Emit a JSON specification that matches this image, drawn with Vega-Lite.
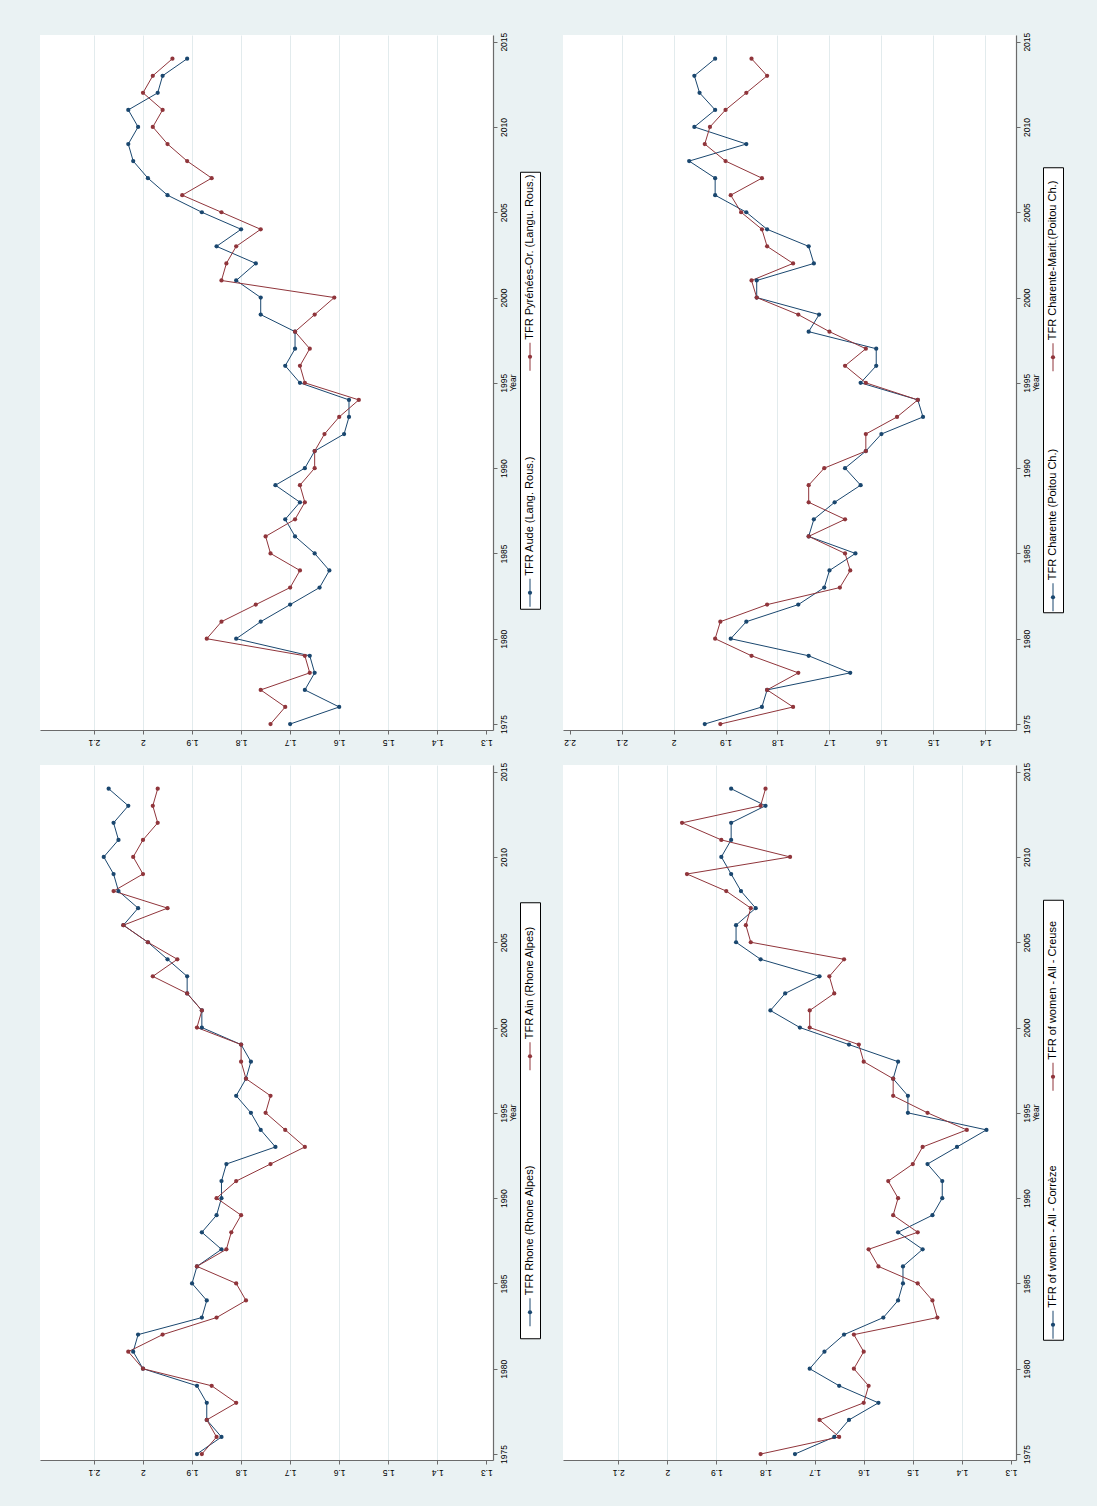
{
  "$schema": "https://vega.github.io/schema/vega-lite/v6.json",
  "background": "#eaf2f3",
  "padding": {"left": 40, "top": 32, "right": 33, "bottom": 30},
  "config": {
    "font": "Liberation Sans",
    "view": {"stroke": null, "fill": "white"},
    "axis": {"labelFont": "Liberation Sans", "labelFontSize": 8.5, "labelColor": "#000", "domainColor": "#6b6b6b", "domainWidth": 1.2, "tickColor": "#6b6b6b", "tickWidth": 1, "titleFont": "Liberation Sans", "titleFontWeight": "normal", "titleFontSize": 8.5, "titleColor": "#000"}
  },
  "datasets": {
    "A": [
      {"s":"a","y":1975,"v":1.70},{"s":"a","y":1976,"v":1.60},{"s":"a","y":1977,"v":1.67},{"s":"a","y":1978,"v":1.65},{"s":"a","y":1979,"v":1.66},{"s":"a","y":1980,"v":1.81},{"s":"a","y":1981,"v":1.76},{"s":"a","y":1982,"v":1.70},{"s":"a","y":1983,"v":1.64},{"s":"a","y":1984,"v":1.62},{"s":"a","y":1985,"v":1.65},{"s":"a","y":1986,"v":1.69},{"s":"a","y":1987,"v":1.71},{"s":"a","y":1988,"v":1.68},{"s":"a","y":1989,"v":1.73},{"s":"a","y":1990,"v":1.67},{"s":"a","y":1991,"v":1.65},{"s":"a","y":1992,"v":1.59},{"s":"a","y":1993,"v":1.58},{"s":"a","y":1994,"v":1.58},{"s":"a","y":1995,"v":1.68},{"s":"a","y":1996,"v":1.71},{"s":"a","y":1997,"v":1.69},{"s":"a","y":1998,"v":1.69},{"s":"a","y":1999,"v":1.76},{"s":"a","y":2000,"v":1.76},{"s":"a","y":2001,"v":1.81},{"s":"a","y":2002,"v":1.77},{"s":"a","y":2003,"v":1.85},{"s":"a","y":2004,"v":1.80},{"s":"a","y":2005,"v":1.88},{"s":"a","y":2006,"v":1.95},{"s":"a","y":2007,"v":1.99},{"s":"a","y":2008,"v":2.02},{"s":"a","y":2009,"v":2.03},{"s":"a","y":2010,"v":2.01},{"s":"a","y":2011,"v":2.03},{"s":"a","y":2012,"v":1.97},{"s":"a","y":2013,"v":1.96},{"s":"a","y":2014,"v":1.91},
      {"s":"b","y":1975,"v":1.74},{"s":"b","y":1976,"v":1.71},{"s":"b","y":1977,"v":1.76},{"s":"b","y":1978,"v":1.66},{"s":"b","y":1979,"v":1.67},{"s":"b","y":1980,"v":1.87},{"s":"b","y":1981,"v":1.84},{"s":"b","y":1982,"v":1.77},{"s":"b","y":1983,"v":1.70},{"s":"b","y":1984,"v":1.68},{"s":"b","y":1985,"v":1.74},{"s":"b","y":1986,"v":1.75},{"s":"b","y":1987,"v":1.69},{"s":"b","y":1988,"v":1.67},{"s":"b","y":1989,"v":1.68},{"s":"b","y":1990,"v":1.65},{"s":"b","y":1991,"v":1.65},{"s":"b","y":1992,"v":1.63},{"s":"b","y":1993,"v":1.60},{"s":"b","y":1994,"v":1.56},{"s":"b","y":1995,"v":1.67},{"s":"b","y":1996,"v":1.68},{"s":"b","y":1997,"v":1.66},{"s":"b","y":1998,"v":1.69},{"s":"b","y":1999,"v":1.65},{"s":"b","y":2000,"v":1.61},{"s":"b","y":2001,"v":1.84},{"s":"b","y":2002,"v":1.83},{"s":"b","y":2003,"v":1.81},{"s":"b","y":2004,"v":1.76},{"s":"b","y":2005,"v":1.84},{"s":"b","y":2006,"v":1.92},{"s":"b","y":2007,"v":1.86},{"s":"b","y":2008,"v":1.91},{"s":"b","y":2009,"v":1.95},{"s":"b","y":2010,"v":1.98},{"s":"b","y":2011,"v":1.96},{"s":"b","y":2012,"v":2.00},{"s":"b","y":2013,"v":1.98},{"s":"b","y":2014,"v":1.94}
    ],
    "B": [
      {"s":"a","y":1975,"v":1.94},{"s":"a","y":1976,"v":1.83},{"s":"a","y":1977,"v":1.82},{"s":"a","y":1978,"v":1.66},{"s":"a","y":1979,"v":1.74},{"s":"a","y":1980,"v":1.89},{"s":"a","y":1981,"v":1.86},{"s":"a","y":1982,"v":1.76},{"s":"a","y":1983,"v":1.71},{"s":"a","y":1984,"v":1.70},{"s":"a","y":1985,"v":1.65},{"s":"a","y":1986,"v":1.74},{"s":"a","y":1987,"v":1.73},{"s":"a","y":1988,"v":1.69},{"s":"a","y":1989,"v":1.64},{"s":"a","y":1990,"v":1.67},{"s":"a","y":1991,"v":1.63},{"s":"a","y":1992,"v":1.60},{"s":"a","y":1993,"v":1.52},{"s":"a","y":1994,"v":1.53},{"s":"a","y":1995,"v":1.64},{"s":"a","y":1996,"v":1.61},{"s":"a","y":1997,"v":1.61},{"s":"a","y":1998,"v":1.74},{"s":"a","y":1999,"v":1.72},{"s":"a","y":2000,"v":1.84},{"s":"a","y":2001,"v":1.84},{"s":"a","y":2002,"v":1.73},{"s":"a","y":2003,"v":1.74},{"s":"a","y":2004,"v":1.82},{"s":"a","y":2005,"v":1.86},{"s":"a","y":2006,"v":1.92},{"s":"a","y":2007,"v":1.92},{"s":"a","y":2008,"v":1.97},{"s":"a","y":2009,"v":1.86},{"s":"a","y":2010,"v":1.96},{"s":"a","y":2011,"v":1.92},{"s":"a","y":2012,"v":1.95},{"s":"a","y":2013,"v":1.96},{"s":"a","y":2014,"v":1.92},
      {"s":"b","y":1975,"v":1.91},{"s":"b","y":1976,"v":1.77},{"s":"b","y":1977,"v":1.82},{"s":"b","y":1978,"v":1.76},{"s":"b","y":1979,"v":1.85},{"s":"b","y":1980,"v":1.92},{"s":"b","y":1981,"v":1.91},{"s":"b","y":1982,"v":1.82},{"s":"b","y":1983,"v":1.68},{"s":"b","y":1984,"v":1.66},{"s":"b","y":1985,"v":1.67},{"s":"b","y":1986,"v":1.74},{"s":"b","y":1987,"v":1.67},{"s":"b","y":1988,"v":1.74},{"s":"b","y":1989,"v":1.74},{"s":"b","y":1990,"v":1.71},{"s":"b","y":1991,"v":1.63},{"s":"b","y":1992,"v":1.63},{"s":"b","y":1993,"v":1.57},{"s":"b","y":1994,"v":1.53},{"s":"b","y":1995,"v":1.63},{"s":"b","y":1996,"v":1.67},{"s":"b","y":1997,"v":1.63},{"s":"b","y":1998,"v":1.70},{"s":"b","y":1999,"v":1.76},{"s":"b","y":2000,"v":1.84},{"s":"b","y":2001,"v":1.85},{"s":"b","y":2002,"v":1.77},{"s":"b","y":2003,"v":1.82},{"s":"b","y":2004,"v":1.83},{"s":"b","y":2005,"v":1.87},{"s":"b","y":2006,"v":1.89},{"s":"b","y":2007,"v":1.83},{"s":"b","y":2008,"v":1.90},{"s":"b","y":2009,"v":1.94},{"s":"b","y":2010,"v":1.93},{"s":"b","y":2011,"v":1.90},{"s":"b","y":2012,"v":1.86},{"s":"b","y":2013,"v":1.82},{"s":"b","y":2014,"v":1.85}
    ],
    "C": [
      {"s":"a","y":1975,"v":1.89},{"s":"a","y":1976,"v":1.84},{"s":"a","y":1977,"v":1.87},{"s":"a","y":1978,"v":1.87},{"s":"a","y":1979,"v":1.89},{"s":"a","y":1980,"v":2.00},{"s":"a","y":1981,"v":2.02},{"s":"a","y":1982,"v":2.01},{"s":"a","y":1983,"v":1.88},{"s":"a","y":1984,"v":1.87},{"s":"a","y":1985,"v":1.90},{"s":"a","y":1986,"v":1.89},{"s":"a","y":1987,"v":1.84},{"s":"a","y":1988,"v":1.88},{"s":"a","y":1989,"v":1.85},{"s":"a","y":1990,"v":1.84},{"s":"a","y":1991,"v":1.84},{"s":"a","y":1992,"v":1.83},{"s":"a","y":1993,"v":1.73},{"s":"a","y":1994,"v":1.76},{"s":"a","y":1995,"v":1.78},{"s":"a","y":1996,"v":1.81},{"s":"a","y":1997,"v":1.79},{"s":"a","y":1998,"v":1.78},{"s":"a","y":1999,"v":1.80},{"s":"a","y":2000,"v":1.88},{"s":"a","y":2001,"v":1.88},{"s":"a","y":2002,"v":1.91},{"s":"a","y":2003,"v":1.91},{"s":"a","y":2004,"v":1.95},{"s":"a","y":2005,"v":1.99},{"s":"a","y":2006,"v":2.04},{"s":"a","y":2007,"v":2.01},{"s":"a","y":2008,"v":2.05},{"s":"a","y":2009,"v":2.06},{"s":"a","y":2010,"v":2.08},{"s":"a","y":2011,"v":2.05},{"s":"a","y":2012,"v":2.06},{"s":"a","y":2013,"v":2.03},{"s":"a","y":2014,"v":2.07},
      {"s":"b","y":1975,"v":1.88},{"s":"b","y":1976,"v":1.85},{"s":"b","y":1977,"v":1.87},{"s":"b","y":1978,"v":1.81},{"s":"b","y":1979,"v":1.86},{"s":"b","y":1980,"v":2.00},{"s":"b","y":1981,"v":2.03},{"s":"b","y":1982,"v":1.96},{"s":"b","y":1983,"v":1.85},{"s":"b","y":1984,"v":1.79},{"s":"b","y":1985,"v":1.81},{"s":"b","y":1986,"v":1.89},{"s":"b","y":1987,"v":1.83},{"s":"b","y":1988,"v":1.82},{"s":"b","y":1989,"v":1.80},{"s":"b","y":1990,"v":1.85},{"s":"b","y":1991,"v":1.81},{"s":"b","y":1992,"v":1.74},{"s":"b","y":1993,"v":1.67},{"s":"b","y":1994,"v":1.71},{"s":"b","y":1995,"v":1.75},{"s":"b","y":1996,"v":1.74},{"s":"b","y":1997,"v":1.79},{"s":"b","y":1998,"v":1.80},{"s":"b","y":1999,"v":1.80},{"s":"b","y":2000,"v":1.89},{"s":"b","y":2001,"v":1.88},{"s":"b","y":2002,"v":1.91},{"s":"b","y":2003,"v":1.98},{"s":"b","y":2004,"v":1.93},{"s":"b","y":2005,"v":1.99},{"s":"b","y":2006,"v":2.04},{"s":"b","y":2007,"v":1.95},{"s":"b","y":2008,"v":2.06},{"s":"b","y":2009,"v":2.00},{"s":"b","y":2010,"v":2.02},{"s":"b","y":2011,"v":2.00},{"s":"b","y":2012,"v":1.97},{"s":"b","y":2013,"v":1.98},{"s":"b","y":2014,"v":1.97}
    ],
    "D": [
      {"s":"a","y":1975,"v":1.74},{"s":"a","y":1976,"v":1.66},{"s":"a","y":1977,"v":1.63},{"s":"a","y":1978,"v":1.57},{"s":"a","y":1979,"v":1.65},{"s":"a","y":1980,"v":1.71},{"s":"a","y":1981,"v":1.68},{"s":"a","y":1982,"v":1.64},{"s":"a","y":1983,"v":1.56},{"s":"a","y":1984,"v":1.53},{"s":"a","y":1985,"v":1.52},{"s":"a","y":1986,"v":1.52},{"s":"a","y":1987,"v":1.48},{"s":"a","y":1988,"v":1.53},{"s":"a","y":1989,"v":1.46},{"s":"a","y":1990,"v":1.44},{"s":"a","y":1991,"v":1.44},{"s":"a","y":1992,"v":1.47},{"s":"a","y":1993,"v":1.41},{"s":"a","y":1994,"v":1.35},{"s":"a","y":1995,"v":1.51},{"s":"a","y":1996,"v":1.51},{"s":"a","y":1997,"v":1.54},{"s":"a","y":1998,"v":1.53},{"s":"a","y":1999,"v":1.63},{"s":"a","y":2000,"v":1.73},{"s":"a","y":2001,"v":1.79},{"s":"a","y":2002,"v":1.76},{"s":"a","y":2003,"v":1.69},{"s":"a","y":2004,"v":1.81},{"s":"a","y":2005,"v":1.86},{"s":"a","y":2006,"v":1.86},{"s":"a","y":2007,"v":1.82},{"s":"a","y":2008,"v":1.85},{"s":"a","y":2009,"v":1.87},{"s":"a","y":2010,"v":1.89},{"s":"a","y":2011,"v":1.87},{"s":"a","y":2012,"v":1.87},{"s":"a","y":2013,"v":1.80},{"s":"a","y":2014,"v":1.87},
      {"s":"b","y":1975,"v":1.81},{"s":"b","y":1976,"v":1.65},{"s":"b","y":1977,"v":1.69},{"s":"b","y":1978,"v":1.60},{"s":"b","y":1979,"v":1.59},{"s":"b","y":1980,"v":1.62},{"s":"b","y":1981,"v":1.60},{"s":"b","y":1982,"v":1.62},{"s":"b","y":1983,"v":1.45},{"s":"b","y":1984,"v":1.46},{"s":"b","y":1985,"v":1.49},{"s":"b","y":1986,"v":1.57},{"s":"b","y":1987,"v":1.59},{"s":"b","y":1988,"v":1.49},{"s":"b","y":1989,"v":1.54},{"s":"b","y":1990,"v":1.53},{"s":"b","y":1991,"v":1.55},{"s":"b","y":1992,"v":1.50},{"s":"b","y":1993,"v":1.48},{"s":"b","y":1994,"v":1.39},{"s":"b","y":1995,"v":1.47},{"s":"b","y":1996,"v":1.54},{"s":"b","y":1997,"v":1.54},{"s":"b","y":1998,"v":1.60},{"s":"b","y":1999,"v":1.61},{"s":"b","y":2000,"v":1.71},{"s":"b","y":2001,"v":1.71},{"s":"b","y":2002,"v":1.66},{"s":"b","y":2003,"v":1.67},{"s":"b","y":2004,"v":1.64},{"s":"b","y":2005,"v":1.83},{"s":"b","y":2006,"v":1.84},{"s":"b","y":2007,"v":1.83},{"s":"b","y":2008,"v":1.88},{"s":"b","y":2009,"v":1.96},{"s":"b","y":2010,"v":1.75},{"s":"b","y":2011,"v":1.89},{"s":"b","y":2012,"v":1.97},{"s":"b","y":2013,"v":1.81},{"s":"b","y":2014,"v":1.80}
    ],
    "LA": [{"s":"a","lab":"TFR Aude (Lang. Rous.)"},{"s":"b","lab":"TFR Pyrénées-Or. (Langu. Rous.)"}],
    "LB": [{"s":"a","lab":"TFR Charente (Poitou Ch.)"},{"s":"b","lab":"TFR Charente-Marit.(Poitou Ch.)"}],
    "LC": [{"s":"a","lab":"TFR Rhone (Rhone Alpes)"},{"s":"b","lab":"TFR Ain (Rhone Alpes)"}],
    "LD": [{"s":"a","lab":"TFR of women - All - Corrèze"},{"s":"b","lab":"TFR of women - All - Creuse"}]
  },
  "resolve": {"scale": {"x": "independent", "y": "independent", "color": "independent"}},
  "spacing": 16,
  "vconcat": [
    {
      "resolve": {"scale": {"x": "independent", "y": "independent", "color": "independent"}},
      "spacing": 22,
      "hconcat": [
        {
          "resolve": {"scale": {"x": "independent", "y": "independent", "color": "independent"}},
          "spacing": 2, "center": true,
          "hconcat": [
            {
              "width": 453, "height": 695,
              "data": {"name": "A"},
              "mark": {"type": "line", "strokeWidth": 1, "point": {"filled": true, "size": 18, "opacity": 1}},
              "encoding": {
                "x": {"field": "v", "type": "quantitative", "scale": {"domain": [1.2864, 2.21], "reverse": true, "nice": false, "zero": false},
                  "axis": {"orient": "bottom", "values": [1.3,1.4,1.5,1.6,1.7,1.8,1.9,2,2.1], "format": "~g", "labelAngle": 180, "labelAlign": "center", "labelBaseline": "bottom", "labelFlush": false, "labelOverlap": false, "title": null, "grid": true, "gridColor": "#e2ebed", "gridOpacity": {"condition": {"test": "datum.value < 1.31 || datum.value > 2.19", "value": 0}, "value": 1}, "tickSize": 4, "labelPadding": 3}},
                "y": {"field": "y", "type": "quantitative", "scale": {"domain": [1974.65, 2015.39], "nice": false, "zero": false},
                  "axis": {"orient": "right", "values": [1975,1980,1985,1990,1995,2000,2005,2010,2015], "format": "d", "labelAngle": 270, "labelAlign": "center", "labelBaseline": "top", "labelFlush": false, "labelOverlap": false, "title": "Year", "titleAngle": 270, "titleBaseline": "top", "titlePadding": 1, "grid": false, "tickSize": 4, "labelPadding": 2}},
                "order": {"field": "y"},
                "color": {"field": "s", "type": "nominal", "scale": {"domain": ["a","b"], "range": ["#1a476f","#90353b"]}, "legend": null}
              }
            },
            {
              "width": 20, "height": 437,
              "view": {"stroke": "#000", "strokeWidth": 1, "fill": "white"},
              "data": {"name": "LA"},
              "encoding": {
                "y": {"field": "s", "type": "nominal", "scale": {"type": "point", "padding": 0, "domain": ["a","b"], "range": [421, 185]}, "axis": null},
                "color": {"field": "s", "type": "nominal", "scale": {"domain": ["a","b"], "range": ["#1a476f","#90353b"]}, "legend": null}
              },
              "layer": [
                {"mark": {"type": "point", "shape": "M0,-1L0,1", "size": 784, "filled": false, "strokeWidth": 1, "opacity": 1}},
                {"mark": {"type": "point", "shape": "circle", "filled": true, "size": 18, "opacity": 1}},
                {"mark": {"type": "text", "angle": 270, "align": "left", "baseline": "middle", "dx": 17, "fontSize": 11, "font": "Liberation Sans"}, "encoding": {"text": {"field": "lab"}, "color": {"value": "#000"}}}
              ]
            }
          ]
        },
        {
          "resolve": {"scale": {"x": "independent", "y": "independent", "color": "independent"}},
          "spacing": 2, "center": true,
          "hconcat": [
            {
              "width": 453, "height": 695,
              "data": {"name": "B"},
              "mark": {"type": "line", "strokeWidth": 1, "point": {"filled": true, "size": 18, "opacity": 1}},
              "encoding": {
                "x": {"field": "v", "type": "quantitative", "scale": {"domain": [1.341, 2.2128], "reverse": true, "nice": false, "zero": false},
                  "axis": {"orient": "bottom", "values": [1.4,1.5,1.6,1.7,1.8,1.9,2,2.1,2.2], "format": "~g", "labelAngle": 180, "labelAlign": "center", "labelBaseline": "bottom", "labelFlush": false, "labelOverlap": false, "title": null, "grid": true, "gridColor": "#e2ebed", "gridOpacity": {"condition": {"test": "datum.value < 1.31 || datum.value > 2.19", "value": 0}, "value": 1}, "tickSize": 4, "labelPadding": 3}},
                "y": {"field": "y", "type": "quantitative", "scale": {"domain": [1974.65, 2015.39], "nice": false, "zero": false},
                  "axis": {"orient": "right", "values": [1975,1980,1985,1990,1995,2000,2005,2010,2015], "format": "d", "labelAngle": 270, "labelAlign": "center", "labelBaseline": "top", "labelFlush": false, "labelOverlap": false, "title": "Year", "titleAngle": 270, "titleBaseline": "top", "titlePadding": 1, "grid": false, "tickSize": 4, "labelPadding": 2}},
                "order": {"field": "y"},
                "color": {"field": "s", "type": "nominal", "scale": {"domain": ["a","b"], "range": ["#1a476f","#90353b"]}, "legend": null}
              }
            },
            {
              "width": 20, "height": 445,
              "view": {"stroke": "#000", "strokeWidth": 1, "fill": "white"},
              "data": {"name": "LB"},
              "encoding": {
                "y": {"field": "s", "type": "nominal", "scale": {"type": "point", "padding": 0, "domain": ["a","b"], "range": [430, 190]}, "axis": null},
                "color": {"field": "s", "type": "nominal", "scale": {"domain": ["a","b"], "range": ["#1a476f","#90353b"]}, "legend": null}
              },
              "layer": [
                {"mark": {"type": "point", "shape": "M0,-1L0,1", "size": 784, "filled": false, "strokeWidth": 1, "opacity": 1}},
                {"mark": {"type": "point", "shape": "circle", "filled": true, "size": 18, "opacity": 1}},
                {"mark": {"type": "text", "angle": 270, "align": "left", "baseline": "middle", "dx": 17, "fontSize": 11, "font": "Liberation Sans"}, "encoding": {"text": {"field": "lab"}, "color": {"value": "#000"}}}
              ]
            }
          ]
        }
      ]
    },
    {
      "resolve": {"scale": {"x": "independent", "y": "independent", "color": "independent"}},
      "spacing": 22,
      "hconcat": [
        {
          "resolve": {"scale": {"x": "independent", "y": "independent", "color": "independent"}},
          "spacing": 2, "center": true,
          "hconcat": [
            {
              "width": 453, "height": 695,
              "data": {"name": "C"},
              "mark": {"type": "line", "strokeWidth": 1, "point": {"filled": true, "size": 18, "opacity": 1}},
              "encoding": {
                "x": {"field": "v", "type": "quantitative", "scale": {"domain": [1.2864, 2.21], "reverse": true, "nice": false, "zero": false},
                  "axis": {"orient": "bottom", "values": [1.3,1.4,1.5,1.6,1.7,1.8,1.9,2,2.1], "format": "~g", "labelAngle": 180, "labelAlign": "center", "labelBaseline": "bottom", "labelFlush": false, "labelOverlap": false, "title": null, "grid": true, "gridColor": "#e2ebed", "gridOpacity": {"condition": {"test": "datum.value < 1.31 || datum.value > 2.19", "value": 0}, "value": 1}, "tickSize": 4, "labelPadding": 3}},
                "y": {"field": "y", "type": "quantitative", "scale": {"domain": [1974.65, 2015.39], "nice": false, "zero": false},
                  "axis": {"orient": "right", "values": [1975,1980,1985,1990,1995,2000,2005,2010,2015], "format": "d", "labelAngle": 270, "labelAlign": "center", "labelBaseline": "top", "labelFlush": false, "labelOverlap": false, "title": "Year", "titleAngle": 270, "titleBaseline": "top", "titlePadding": 1, "grid": false, "tickSize": 4, "labelPadding": 2}},
                "order": {"field": "y"},
                "color": {"field": "s", "type": "nominal", "scale": {"domain": ["a","b"], "range": ["#1a476f","#90353b"]}, "legend": null}
              }
            },
            {
              "width": 20, "height": 436,
              "view": {"stroke": "#000", "strokeWidth": 1, "fill": "white"},
              "data": {"name": "LC"},
              "encoding": {
                "y": {"field": "s", "type": "nominal", "scale": {"type": "point", "padding": 0, "domain": ["a","b"], "range": [410, 154]}, "axis": null},
                "color": {"field": "s", "type": "nominal", "scale": {"domain": ["a","b"], "range": ["#1a476f","#90353b"]}, "legend": null}
              },
              "layer": [
                {"mark": {"type": "point", "shape": "M0,-1L0,1", "size": 784, "filled": false, "strokeWidth": 1, "opacity": 1}},
                {"mark": {"type": "point", "shape": "circle", "filled": true, "size": 18, "opacity": 1}},
                {"mark": {"type": "text", "angle": 270, "align": "left", "baseline": "middle", "dx": 17, "fontSize": 11, "font": "Liberation Sans"}, "encoding": {"text": {"field": "lab"}, "color": {"value": "#000"}}}
              ]
            }
          ]
        },
        {
          "resolve": {"scale": {"x": "independent", "y": "independent", "color": "independent"}},
          "spacing": 2, "center": true,
          "hconcat": [
            {
              "width": 453, "height": 695,
              "data": {"name": "D"},
              "mark": {"type": "line", "strokeWidth": 1, "point": {"filled": true, "size": 18, "opacity": 1}},
              "encoding": {
                "x": {"field": "v", "type": "quantitative", "scale": {"domain": [1.2898, 2.2125], "reverse": true, "nice": false, "zero": false},
                  "axis": {"orient": "bottom", "values": [1.3,1.4,1.5,1.6,1.7,1.8,1.9,2,2.1], "format": "~g", "labelAngle": 180, "labelAlign": "center", "labelBaseline": "bottom", "labelFlush": false, "labelOverlap": false, "title": null, "grid": true, "gridColor": "#e2ebed", "gridOpacity": {"condition": {"test": "datum.value < 1.31 || datum.value > 2.19", "value": 0}, "value": 1}, "tickSize": 4, "labelPadding": 3}},
                "y": {"field": "y", "type": "quantitative", "scale": {"domain": [1974.65, 2015.39], "nice": false, "zero": false},
                  "axis": {"orient": "right", "values": [1975,1980,1985,1990,1995,2000,2005,2010,2015], "format": "d", "labelAngle": 270, "labelAlign": "center", "labelBaseline": "top", "labelFlush": false, "labelOverlap": false, "title": "Year", "titleAngle": 270, "titleBaseline": "top", "titlePadding": 1, "grid": false, "tickSize": 4, "labelPadding": 2}},
                "order": {"field": "y"},
                "color": {"field": "s", "type": "nominal", "scale": {"domain": ["a","b"], "range": ["#1a476f","#90353b"]}, "legend": null}
              }
            },
            {
              "width": 20, "height": 440,
              "view": {"stroke": "#000", "strokeWidth": 1, "fill": "white"},
              "data": {"name": "LD"},
              "encoding": {
                "y": {"field": "s", "type": "nominal", "scale": {"type": "point", "padding": 0, "domain": ["a","b"], "range": [425, 177]}, "axis": null},
                "color": {"field": "s", "type": "nominal", "scale": {"domain": ["a","b"], "range": ["#1a476f","#90353b"]}, "legend": null}
              },
              "layer": [
                {"mark": {"type": "point", "shape": "M0,-1L0,1", "size": 784, "filled": false, "strokeWidth": 1, "opacity": 1}},
                {"mark": {"type": "point", "shape": "circle", "filled": true, "size": 18, "opacity": 1}},
                {"mark": {"type": "text", "angle": 270, "align": "left", "baseline": "middle", "dx": 17, "fontSize": 11, "font": "Liberation Sans"}, "encoding": {"text": {"field": "lab"}, "color": {"value": "#000"}}}
              ]
            }
          ]
        }
      ]
    }
  ]
}
